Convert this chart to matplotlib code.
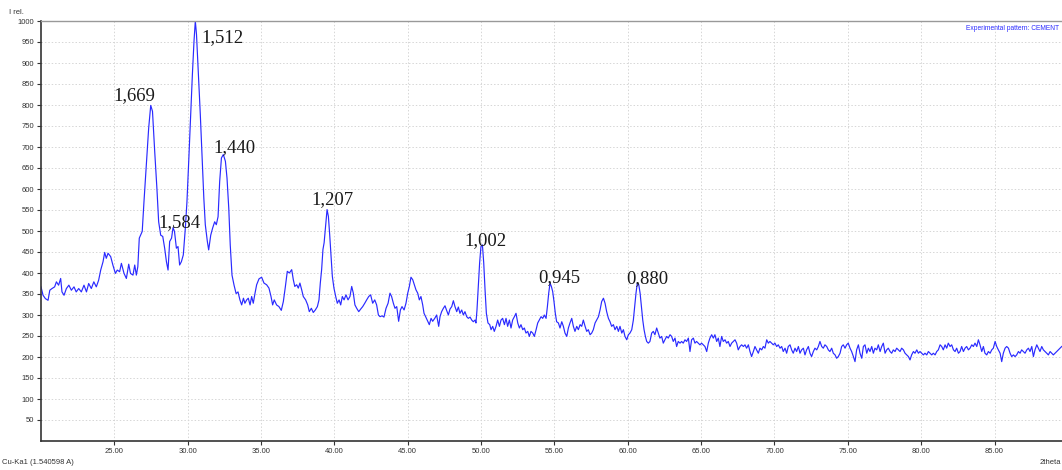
import matplotlib
matplotlib.use("Agg")
import matplotlib.pyplot as plt
from matplotlib.ticker import FixedLocator, FuncFormatter

# ---- data (2theta, I rel.) ----
two_theta_a = [20.0, 20.14, 20.3, 20.48, 20.6, 20.75, 20.93, 21.05, 21.2, 21.34, 21.43, 21.57, 21.73, 21.9, 22.07,
               22.25, 22.4, 22.57, 22.75, 22.93, 23.1, 23.25, 23.43, 23.6, 23.77, 23.93, 24.07, 24.23, 24.34, 24.45,
               24.57, 24.75, 24.9, 25.07, 25.2, 25.36, 25.48, 25.66, 25.82, 25.98, 26.1, 26.27, 26.39, 26.5, 26.6,
               26.7, 26.9, 27.02, 27.18, 27.34, 27.48, 27.6, 27.75, 27.9, 28.02, 28.16, 28.3, 28.43, 28.55, 28.66,
               28.77, 28.9, 29.0, 29.1, 29.23, 29.34, 29.45, 29.57, 29.7, 29.84, 29.95, 30.07, 30.2, 30.32, 30.43,
               30.52, 30.6, 30.73, 30.86, 31.0, 31.1, 31.2, 31.34, 31.43, 31.57, 31.7, 31.84, 31.95, 32.07, 32.18,
               32.3, 32.43, 32.57, 32.68, 32.8, 32.9, 33.02, 33.16, 33.3, 33.43]
intensity_a = [367, 347, 339, 335, 359, 363, 367, 379, 371, 387, 355, 347, 363, 371, 359,
               367, 355, 363, 355, 371, 355, 375, 363, 379, 367, 383, 407, 427, 449, 435,
               447, 439, 419, 399, 407, 403, 423, 399, 387, 421, 399, 395, 419, 395, 415,
               483, 499, 570, 658, 745, 799, 785, 690, 602, 522, 490, 487, 459, 427, 407,
               475, 483, 508, 499, 459, 463, 419, 427, 443, 507, 570, 666, 777, 873, 952,
               1000, 968, 873, 777, 658, 578, 515, 475, 455, 490, 507, 522, 515, 534, 618,
               674, 682, 666, 626, 554, 467, 395, 371, 351, 355]

two_theta_b = [33.56, 33.68, 33.8, 33.9, 34.02, 34.13, 34.25, 34.36, 34.47, 34.59, 34.7, 34.86, 35.04, 35.2, 35.38,
               35.54, 35.68, 35.79, 35.9, 36.06, 36.22, 36.38, 36.52, 36.66, 36.79, 36.93, 37.09, 37.2, 37.3, 37.43,
               37.54, 37.65, 37.77, 37.88, 38.04, 38.18, 38.29, 38.43, 38.56, 38.7, 38.84, 38.95, 39.04, 39.13, 39.22,
               39.3, 39.4, 39.5, 39.59, 39.68, 39.77, 39.86, 39.97, 40.09, 40.2, 40.32, 40.43, 40.54, 40.66, 40.79,
               40.93, 41.06, 41.18, 41.29, 41.4, 41.52, 41.66, 41.79, 41.93, 42.07, 42.2, 42.34, 42.47, 42.61, 42.75,
               42.88, 43.0, 43.11, 43.25, 43.38, 43.52, 43.66, 43.79, 43.9, 44.02, 44.13, 44.25, 44.38, 44.5, 44.61,
               44.75, 44.88, 45.0, 45.11, 45.22, 45.34, 45.45, 45.56, 45.68, 45.79, 45.9, 46.02, 46.11, 46.22, 46.36,
               46.47, 46.59, 46.7, 46.84, 46.97, 47.11]
intensity_b = [336, 324, 340, 328, 336, 340, 324, 344, 328, 352, 372, 386, 390, 376, 372,
               364, 344, 324, 336, 324, 320, 311, 332, 368, 404, 400, 408, 384, 368, 372,
               364, 376, 360, 344, 336, 324, 308, 316, 306, 312, 320, 336, 376, 408, 456,
               472, 511, 551, 535, 491, 440, 392, 364, 344, 328, 336, 324, 344, 336, 348,
               336, 344, 368, 352, 324, 316, 308, 314, 320, 328, 336, 344, 348, 328, 336,
               324, 300, 296, 298, 295, 316, 328, 352, 344, 328, 316, 320, 285, 312, 320,
               312, 328, 352, 368, 390, 384, 372, 360, 352, 336, 344, 324, 304, 296, 285,
               277, 292, 285, 292, 300, 273]

two_theta_c = [47.2, 47.31, 47.43, 47.54, 47.65, 47.77, 47.88, 48.0, 48.11, 48.22, 48.34, 48.45, 48.56, 48.68, 48.79,
               48.9, 49.02, 49.13, 49.25, 49.36, 49.47, 49.59, 49.65, 49.72, 49.81, 49.9, 49.99, 50.09, 50.18, 50.27,
               50.36, 50.47, 50.59, 50.68, 50.79, 50.9, 51.02, 51.13, 51.25, 51.36, 51.47, 51.59, 51.7, 51.81, 51.93,
               52.04, 52.15, 52.27, 52.38, 52.5, 52.61, 52.72, 52.84, 52.95, 53.06, 53.18, 53.29, 53.4, 53.52, 53.63,
               53.75, 53.86, 53.97, 54.09, 54.2, 54.31, 54.43, 54.52, 54.61, 54.7, 54.79, 54.88, 54.97, 55.06, 55.15,
               55.27, 55.38, 55.5, 55.61, 55.72, 55.84, 55.95, 56.06, 56.18, 56.29, 56.4, 56.52, 56.63, 56.75, 56.86,
               56.97, 57.09, 57.2, 57.31, 57.43, 57.54, 57.65, 57.77, 57.88, 58.0, 58.11, 58.22, 58.34, 58.45, 58.56,
               58.68, 58.79, 58.9, 59.02, 59.13, 59.25, 59.36, 59.47, 59.59, 59.7, 59.81, 59.93, 60.04, 60.15, 60.27,
               60.38, 60.47, 60.56, 60.65, 60.75, 60.84, 60.93, 61.02, 61.11, 61.2, 61.29]
intensity_c = [296, 308, 316, 322, 311, 300, 314, 320, 334, 320, 308, 319, 304, 312, 300,
               308, 296, 292, 295, 288, 284, 288, 281, 312, 368, 424, 463, 467, 424, 360,
               304, 281, 277, 265, 273, 261, 273, 288, 273, 288, 292, 277, 292, 273, 288,
               269, 288, 296, 304, 281, 269, 277, 265, 269, 257, 261, 249, 261, 257, 249,
               265, 281, 288, 296, 292, 300, 292, 320, 352, 376, 368, 356, 332, 304, 284,
               281, 269, 284, 273, 257, 249, 269, 281, 292, 273, 261, 273, 265, 277, 273,
               288, 273, 261, 265, 253, 257, 265, 281, 288, 296, 312, 332, 340, 328, 308,
               292, 284, 273, 277, 265, 273, 261, 273, 257, 265, 249, 241, 253, 257, 265,
               288, 320, 352, 376, 372, 352, 320, 288, 265, 249, 237]

two_theta_d = [61.4, 61.51, 61.63, 61.74, 61.85, 61.97, 62.08, 62.19, 62.31, 62.42, 62.53, 62.65, 62.76, 62.88, 62.99,
               63.1, 63.22, 63.33, 63.44, 63.56, 63.67, 63.78, 63.9, 64.01, 64.13, 64.24, 64.35, 64.47, 64.58, 64.69,
               64.81, 64.92, 65.03, 65.15, 65.26, 65.38, 65.49, 65.6, 65.72, 65.83, 65.94, 66.06, 66.17, 66.28, 66.4,
               66.51, 66.63, 66.74, 66.85, 66.97, 67.08, 67.19, 67.31, 67.42, 67.53, 67.65, 67.76, 67.88, 67.99, 68.1,
               68.22, 68.33, 68.44, 68.56, 68.67, 68.78, 68.9, 69.01, 69.13, 69.24, 69.35, 69.47, 69.58, 69.69, 69.81,
               69.92, 70.03, 70.15, 70.26, 70.38, 70.49, 70.6, 70.72, 70.83, 70.94, 71.06, 71.17, 71.28, 71.4, 71.51,
               71.63, 71.74, 71.85, 71.97, 72.08, 72.19, 72.31, 72.42, 72.53, 72.65, 72.76, 72.88, 72.99, 73.1, 73.22,
               73.33, 73.44, 73.56, 73.67, 73.78, 73.9, 74.01, 74.13, 74.24, 74.35, 74.47, 74.58, 74.69, 74.81, 74.92,
               75.03]
intensity_d = [233, 237, 257, 261, 253, 269, 257, 245, 249, 233, 241, 249, 245, 253, 249,
               237, 245, 225, 237, 233, 237, 233, 241, 237, 245, 213, 241, 245, 233, 237,
               233, 229, 233, 229, 225, 213, 233, 245, 253, 245, 253, 237, 245, 225, 249,
               237, 241, 233, 237, 225, 233, 237, 241, 233, 217, 225, 229, 225, 229, 221,
               229, 213, 201, 213, 225, 217, 209, 221, 217, 225, 221, 241, 233, 237, 233,
               229, 233, 225, 229, 221, 225, 213, 221, 209, 225, 229, 217, 209, 221, 213,
               225, 209, 217, 221, 205, 217, 225, 209, 201, 213, 221, 217, 225, 237, 225,
               221, 229, 225, 217, 213, 221, 209, 205, 197, 201, 209, 225, 229, 221, 229,
               233]

two_theta_e = [75.15, 75.26, 75.38, 75.49, 75.6, 75.72, 75.83, 75.95, 76.06, 76.17, 76.29, 76.4, 76.51, 76.63, 76.74,
               76.85, 76.97, 77.08, 77.2, 77.31, 77.42, 77.54, 77.65, 77.76, 77.88, 77.99, 78.1, 78.22, 78.33, 78.45,
               78.56, 78.67, 78.79, 78.9, 79.01, 79.13, 79.24, 79.35, 79.47, 79.58, 79.7, 79.81, 79.92, 80.04, 80.15,
               80.26, 80.38, 80.49, 80.6, 80.72, 80.83, 80.95, 81.06, 81.17, 81.29, 81.4, 81.51, 81.63, 81.74, 81.85,
               81.97, 82.08, 82.2, 82.31, 82.42, 82.54, 82.65, 82.76, 82.88, 82.99, 83.1, 83.22, 83.33, 83.45, 83.56,
               83.67, 83.79, 83.9, 84.01, 84.13, 84.24, 84.35, 84.47, 84.58, 84.7, 84.81, 84.92, 85.04, 85.15, 85.26,
               85.38, 85.49, 85.6, 85.72, 85.83, 85.95, 86.06, 86.17, 86.29, 86.4, 86.51, 86.63, 86.74, 86.85, 86.97,
               87.08, 87.2, 87.31, 87.42, 87.54, 87.65, 87.76, 87.88, 87.99, 88.1, 88.22, 88.33, 88.45, 88.56, 88.67,
               88.79, 88.9, 89.01, 89.13, 89.24, 89.35, 89.47, 89.58]
intensity_e = [221, 213, 201, 189, 217, 229, 209, 197, 225, 229, 209, 221, 213, 225, 209,
               221, 217, 229, 213, 225, 233, 209, 217, 221, 213, 209, 217, 213, 221, 217,
               213, 221, 217, 209, 205, 201, 193, 205, 213, 209, 217, 209, 213, 209, 205,
               209, 205, 213, 209, 205, 209, 205, 213, 217, 229, 225, 217, 229, 221, 233,
               225, 229, 217, 213, 221, 209, 213, 225, 213, 221, 225, 217, 221, 229, 225,
               233, 225, 241, 229, 213, 225, 209, 205, 213, 209, 217, 221, 237, 225, 217,
               209, 189, 209, 221, 225, 221, 209, 201, 205, 201, 205, 213, 209, 217, 213,
               209, 217, 221, 213, 225, 201, 217, 229, 221, 213, 225, 217, 213, 209, 205,
               213, 209, 205, 209, 213, 217, 221, 225]

two_theta = two_theta_a + two_theta_b + two_theta_c + two_theta_d + two_theta_e
intensity = intensity_a + intensity_b + intensity_c + intensity_d + intensity_e

# peak labels (d-spacings) with their text anchor positions
peak_labels = ["1,669", "1,512", "1,440", "1,584", "1,207", "1,002", "0,945", "0,880"]
label_x = [26.37, 32.34, 33.16, 29.45, 39.84, 50.28, 55.31, 61.34]
label_y = [811, 949, 689, 510, 563, 467, 379, 377]

x_ticks = [25, 30, 35, 40, 45, 50, 55, 60, 65, 70, 75, 80, 85]
y_ticks = list(range(50, 1001, 50))

# ---- figure ----
W, H = 1062, 470
fig = plt.figure(figsize=(W / 100, H / 100), dpi=100)
ax = fig.add_axes([41 / W, 29 / H, (W - 41) / W, 420 / H])

ax.plot(two_theta, intensity, color="#2a2aff", lw=0.85)

ax.set_xlim(20, 89.6)
ax.set_ylim(0, 1000)
ax.xaxis.set_major_locator(FixedLocator(x_ticks))
ax.yaxis.set_major_locator(FixedLocator(y_ticks))
ax.xaxis.set_major_formatter(FuncFormatter(lambda v, p: f"{v:.2f}"))
ax.yaxis.set_major_formatter(FuncFormatter(lambda v, p: f"{int(v)}"))
ax.tick_params(axis="both", labelsize=5.5, labelcolor="#333333", color="#333333",
               length=3, width=0.8, direction="out", pad=2)
for lab in ax.get_xticklabels() + ax.get_yticklabels():
    lab.set_fontfamily("Liberation Sans")

ax.grid(True, color="#d6d6d6", linestyle=(0, (1.5, 2)), linewidth=0.7)
ax.set_axisbelow(True)

ax.spines["left"].set_color("#333333")
ax.spines["left"].set_linewidth(1.2)
ax.spines["bottom"].set_color("#333333")
ax.spines["bottom"].set_linewidth(1.2)
ax.spines["top"].set_color("#999999")
ax.spines["top"].set_linewidth(1.0)
ax.spines["right"].set_visible(False)

for t, xv, yv in zip(peak_labels, label_x, label_y):
    ax.text(xv, yv, t, ha="center", va="baseline", fontsize=13.5,
            family="Liberation Serif", color="#1a1a1a")

fig.text(9 / W, 1 - 12 / H, "I rel.", fontsize=5.5, family="Liberation Sans",
         color="#333333", ha="left", va="center")
fig.text(2 / W, 1 - 463 / H, "Cu-Ka1 (1.540598 A)", fontsize=5.5, family="Liberation Sans",
         color="#333333", ha="left", va="center")
fig.text(1040 / W, 1 - 463 / H, "2theta", fontsize=5.5, family="Liberation Sans",
         color="#333333", ha="left", va="center")
fig.text(1059 / W, 1 - 29 / H, "Experimental pattern: CEMENT", fontsize=4.8,
         family="Liberation Sans", color="#2a2aff", ha="right", va="center")

fig.savefig("out.png", dpi=100)
